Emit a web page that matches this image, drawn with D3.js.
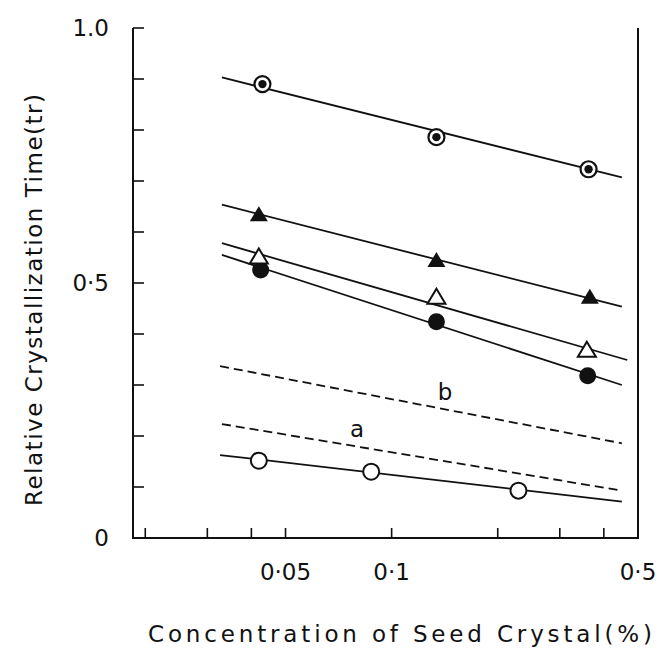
<!DOCTYPE html>
<html lang="en">
<head>
<meta charset="UTF-8">
<title>Relative Crystallization Time</title>
<style>
    body { margin: 0; background: #fff; }
    text { font-family: "DejaVu Sans", sans-serif; fill: #111; }
</style>
</head>
<body>
<svg></svg>
<script src="https://cdn.jsdelivr.net/npm/d3@7"></script>
<script>
// tick values and labels
var xTicks = [0.02, 0.03, 0.04, 0.05, 0.1, 0.2, 0.3, 0.4];
var xLabelValues = [0.05, 0.1, 0.5];
var xLabelTexts = ["0\u00b705", "0\u00b71", "0\u00b75"];
var yTicks = [0, 0.1, 0.2, 0.3, 0.4, 0.5, 0.6, 0.7, 0.8, 0.9, 1.0];
var yLabelValues = [0, 0.5, 1.0];
var yLabelTexts = ["0", "0\u00b75", "1.0"];

// measured points (seed concentration %, relative time)
var dotCircleX = [0.043, 0.134, 0.362];
var dotCircleY = [0.890, 0.786, 0.723];
var filledTriX = [0.042, 0.134, 0.365];
var filledTriY = [0.635, 0.545, 0.473];
var openTriX = [0.042, 0.134, 0.358];
var openTriY = [0.552, 0.473, 0.369];
var filledCircX = [0.0425, 0.134, 0.360];
var filledCircY = [0.5255, 0.424, 0.318];
var openCircX = [0.042, 0.0875, 0.229];
var openCircY = [0.1516, 0.130, 0.0928];

// fitted lines: [x start, x end], [y start, y end]
var dotCircleFit = [[0.033, 0.45], [0.903, 0.707]];
var filledTriFit = [[0.033, 0.45], [0.6535, 0.4535]];
var openTriFit = [[0.033, 0.466], [0.578, 0.349]];
var filledCircFit = [[0.033, 0.45], [0.555, 0.300]];
var openCircFit = [[0.0326, 0.45], [0.1627, 0.0712]];
var bFit = [[0.0326, 0.45], [0.337, 0.1857]];
var aFit = [[0.033, 0.45], [0.2235, 0.0928]];

var svg = d3.select("svg").attr("width", 662).attr("height", 652);

var x = d3.scaleLog().domain([0.01846, 0.5]).range([133, 638]);
var y = d3.scaleLinear().domain([0, 1]).range([538, 28]);

// frame: left, bottom, right
svg.append("path")
    .attr("d", "M" + x.range()[0] + "," + y(1) + "V" + y(0) + "H" + x.range()[1] + "V" + y(1))
    .attr("fill", "none")
    .attr("stroke", "#111")
    .attr("stroke-width", 2);

// y ticks point inward
svg.selectAll(".ytick").data(yTicks).enter().append("line")
    .attr("x1", x.range()[0]).attr("x2", x.range()[0] + 11)
    .attr("y1", function(d) { return y(d); })
    .attr("y2", function(d) { return y(d); })
    .attr("stroke", "#111").attr("stroke-width", 1.6);

svg.selectAll(".xtick").data(xTicks).enter().append("line")
    .attr("x1", function(d) { return x(d); })
    .attr("x2", function(d) { return x(d); })
    .attr("y1", y(0)).attr("y2", y(0) - 10)
    .attr("stroke", "#111").attr("stroke-width", 1.6);

svg.selectAll(".ylab").data(yLabelValues).enter().append("text")
    .attr("x", 109)
    .attr("y", function(d) { return y(d) + 8; })
    .attr("text-anchor", "end")
    .style("font-size", "23px")
    .text(function(d, i) { return yLabelTexts[i]; });

svg.selectAll(".xlab").data(xLabelValues).enter().append("text")
    .attr("x", function(d) { return x(d); })
    .attr("y", 580)
    .attr("text-anchor", "middle")
    .style("font-size", "23px")
    .text(function(d, i) { return xLabelTexts[i]; });

// spread a title over a given length with letter spacing
function spread(sel, target) {
    var s = sel.text();
    var w = sel.node().getComputedTextLength();
    sel.style("letter-spacing", ((target - w) / (s.length - 1)) + "px");
}

var xt = svg.append("text")
    .attr("x", 148).attr("y", 642)
    .style("font-size", "23px")
    .text("Concentration of Seed Crystal(%)");
spread(xt, 504);

var yt = svg.append("text")
    .attr("transform", "translate(42,506) rotate(-90)")
    .style("font-size", "23px")
    .text("Relative Crystallization Time(tr)");
spread(yt, 412);

// fit lines
function fitLine(fit, dashed) {
    var pts = fit[0].map(function(v, i) { return [v, fit[1][i]]; });
    svg.append("path")
        .datum(pts)
        .attr("fill", "none")
        .attr("stroke", "#111")
        .attr("stroke-width", 1.8)
        .attr("stroke-dasharray", dashed ? "9,5" : null)
        .attr("d", d3.line()
            .x(function(d) { return x(d[0]); })
            .y(function(d) { return y(d[1]); }));
}
fitLine(dotCircleFit);
fitLine(filledTriFit);
fitLine(openTriFit);
fitLine(filledCircFit);
fitLine(openCircFit);
fitLine(bFit, true);
fitLine(aFit, true);

svg.append("text").attr("x", 445).attr("y", 400)
    .attr("text-anchor", "middle").style("font-size", "23px").text("b");
svg.append("text").attr("x", 357).attr("y", 437)
    .attr("text-anchor", "middle").style("font-size", "23px").text("a");

function pairs(xs, ys) {
    return xs.map(function(v, i) { return [v, ys[i]]; });
}

function triPath(d) {
    var cx = x(d[0]), cy = y(d[1]);
    return "M" + cx + "," + (cy - 8) + "L" + (cx + 9) + "," + (cy + 7) + "L" + (cx - 9) + "," + (cy + 7) + "Z";
}

// markers
svg.selectAll(".oc").data(pairs(openCircX, openCircY)).enter().append("circle")
    .attr("cx", function(d) { return x(d[0]); })
    .attr("cy", function(d) { return y(d[1]); })
    .attr("r", 8).attr("fill", "#fff").attr("stroke", "#111").attr("stroke-width", 2);

svg.selectAll(".fc").data(pairs(filledCircX, filledCircY)).enter().append("circle")
    .attr("cx", function(d) { return x(d[0]); })
    .attr("cy", function(d) { return y(d[1]); })
    .attr("r", 8.5).attr("fill", "#111");

svg.selectAll(".ot").data(pairs(openTriX, openTriY)).enter().append("path")
    .attr("d", triPath).attr("fill", "#fff").attr("stroke", "#111").attr("stroke-width", 2)
    .attr("stroke-linejoin", "miter");

svg.selectAll(".ft").data(pairs(filledTriX, filledTriY)).enter().append("path")
    .attr("d", triPath).attr("fill", "#111");

var dc = svg.selectAll(".dc").data(pairs(dotCircleX, dotCircleY)).enter().append("g");
dc.append("circle")
    .attr("cx", function(d) { return x(d[0]); })
    .attr("cy", function(d) { return y(d[1]); })
    .attr("r", 8).attr("fill", "#fff").attr("stroke", "#111").attr("stroke-width", 2.2);
dc.append("circle")
    .attr("cx", function(d) { return x(d[0]); })
    .attr("cy", function(d) { return y(d[1]); })
    .attr("r", 4.2).attr("fill", "#111");
</script>
</body>
</html>
